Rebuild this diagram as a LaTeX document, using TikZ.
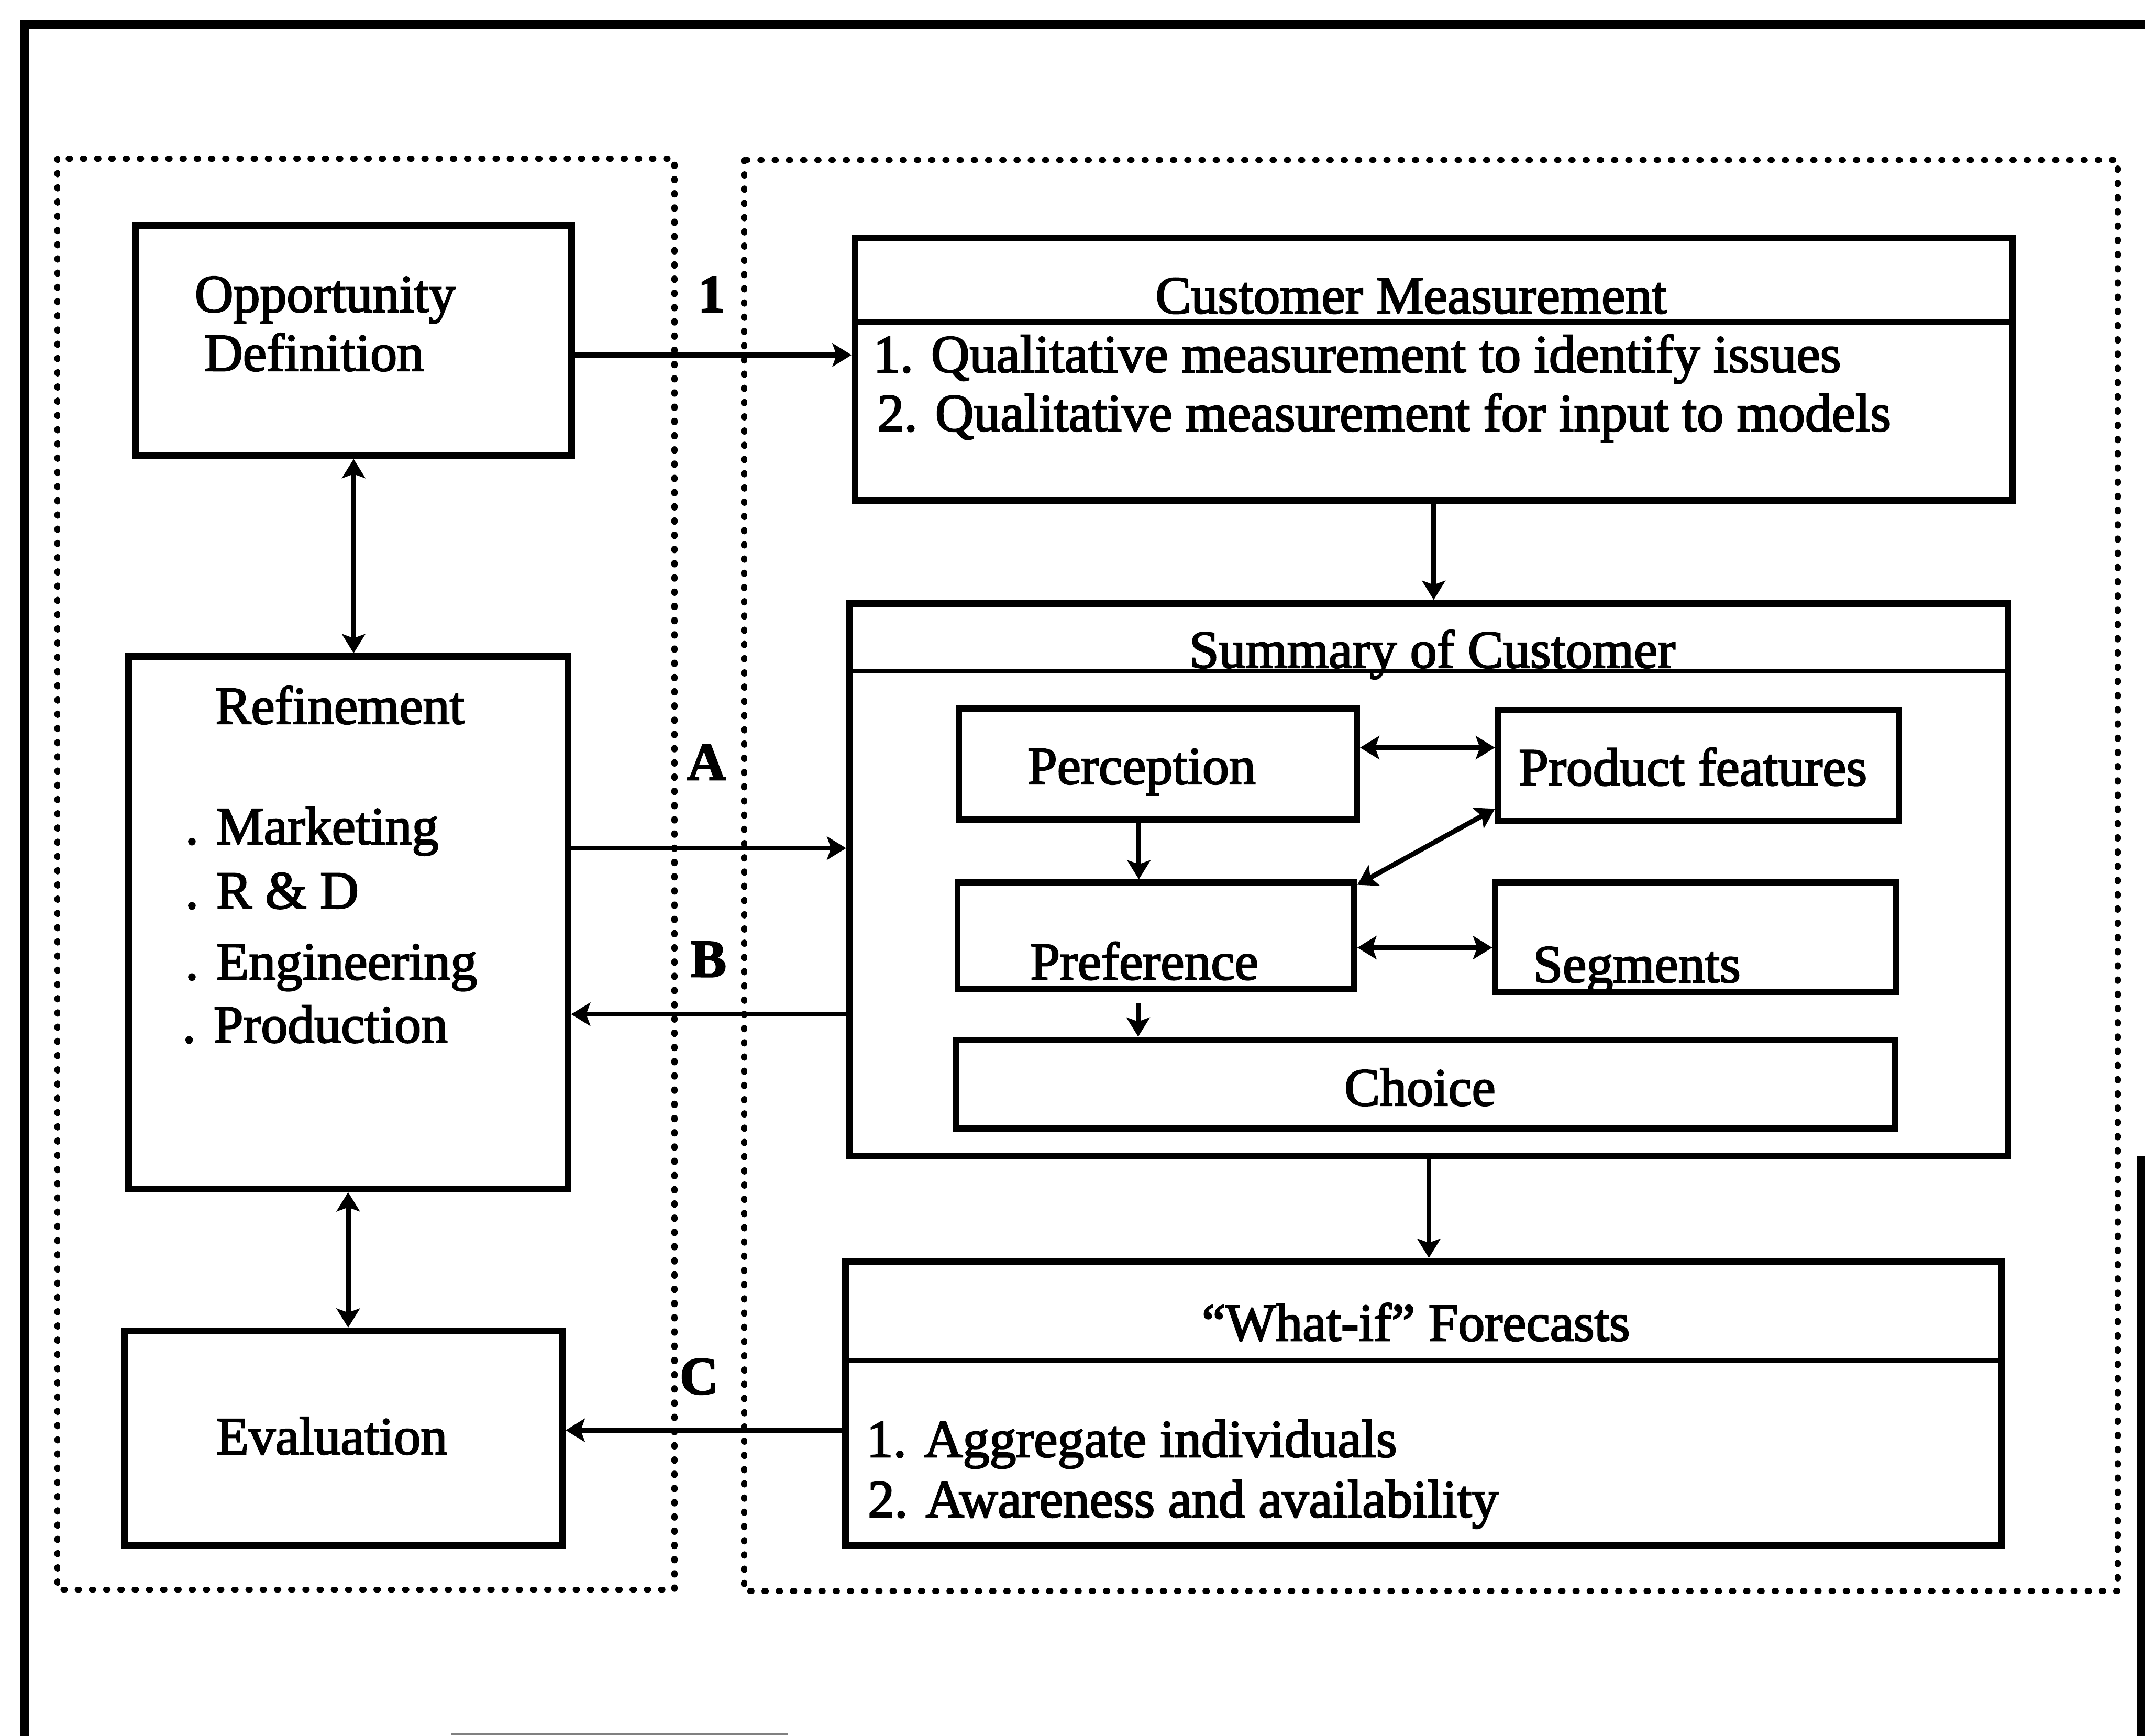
\documentclass[tikz,border=0pt]{standalone}
\usepackage{fontspec}
\setmainfont{Liberation Serif}[FakeBold=2.5]
\usetikzlibrary{arrows.meta,calc}

\tikzset{
  frame/.style={line width=3pt},
  dotbox/.style={line width=2.2pt, line cap=round, dash pattern=on 0.5pt off 4.7pt},
  box/.style={draw, rectangle, line width=2.5pt, inner sep=0pt},
  subbox/.style={draw, rectangle, line width=2.2pt, inner sep=0pt},
  divider/.style={line width=1.8pt},
  txt/.style={inner sep=0pt, font=\fontsize{19.5}{23}\selectfont},
  tag/.style={inner sep=0pt, font=\fontsize{19.5}{23}\selectfont\bfseries},
  tip/.tip={Stealth[length=7pt,width=8.5pt,inset=1.5pt]},
  arr/.style={line width=1.8pt, -tip},
  darr/.style={line width=1.8pt, tip-tip},
}

\begin{document}
\begin{tikzpicture}[x=0.5pt,y=-0.5pt]
\useasboundingbox (0,0) rectangle (1568,1269);
\clip (0,0) rectangle (1568,1269);

% outer frame (runs off the lower and right edges)
\draw[frame] (18,1300) -- (18,18) -- (1600,18);
\draw[frame] (1565,845) -- (1565,1300);
\draw[gray, line width=0.8pt] (330,1268) -- (576,1268);

% dotted groupings
\draw[dotbox] (42,116) rectangle (493,1162);
\draw[dotbox] (544,117) rectangle (1548,1163);

% left column
\node[box, minimum width=159.5pt, minimum height=84pt] (opp) at (258.5,249) {};
\node[box, minimum width=160.5pt, minimum height=194.5pt] (ref) at (254.5,674.5) {};
\node[box, minimum width=160pt, minimum height=78.5pt] (eval) at (251,1051.5) {};

% right column
\node[box, minimum width=423pt, minimum height=96pt] (cm) at (1048,270) {};
\node[box, minimum width=423.5pt, minimum height=202pt] (sum) at (1044.5,643) {};
\node[box, minimum width=422.5pt, minimum height=104pt] (fc) at (1040.5,1026) {};

% header dividers
\draw[divider] ($(cm.north west)+(0,64)$) -- ($(cm.north east)+(0,64)$);
\draw[divider] ($(sum.north west)+(0,52)$) -- ($(sum.north east)+(0,52)$);
\draw[divider] ($(fc.north west)+(0,75)$) -- ($(fc.north east)+(0,75)$);

% customer summary contents
\node[subbox, minimum width=145.5pt, minimum height=40.5pt] (perc) at (846.5,558.5) {};
\node[subbox, minimum width=146.5pt, minimum height=40.5pt] (pf) at (1241.5,559.5) {};
\node[subbox, minimum width=145pt, minimum height=39pt] (pref) at (845,684) {};
\node[subbox, minimum width=146.5pt, minimum height=40pt] (seg) at (1239.5,685) {};
\node[subbox, minimum width=343pt, minimum height=32.5pt] (choice) at (1042,792.5) {};

% texts
\node[txt, anchor=base west] (oppA) at (142,228) {Opportunity};
\node[txt, anchor=base west] (oppB) at (149,271) {Definition};
\node[txt, anchor=base] (refT) at (248.5,529) {Refinement};
\node[txt, anchor=base west] (r1) at (135,617) {. Marketing};
\node[txt, anchor=base west] (r2) at (135,664) {. R \& D};
\node[txt, anchor=base west] (r3) at (135,716) {. Engineering};
\node[txt, anchor=base west] (r4) at (133,762) {. Production};
\node[txt, anchor=base] (evalT) at (242.5,1063) {Evaluation};

\node[txt, anchor=base] (cmT) at (1031.5,229) {Customer Measurement};
\node[txt, anchor=base west] (cm1) at (638,272) {1. Qualitative measurement to identify issues};
\node[txt, anchor=base west] (cm2) at (641,315) {2. Qualitative measurement for input to models};
\node[txt, anchor=base] (sumT) at (1047,488) {Summary of Customer};
\node[txt, anchor=base] (percT) at (834.5,573) {Perception};
\node[txt, anchor=base] (pfT) at (1237.5,574) {Product features};
\node[txt, anchor=base] (prefT) at (836.5,716) {Preference};
\node[txt, anchor=base] (segT) at (1196.5,718) {Segments};
\node[txt, anchor=base] (choiceT) at (1038,808) {Choice};
\node[txt, anchor=base] (fcT) at (1035,980) {“What-if” Forecasts};
\node[txt, anchor=base west] (fc1) at (633,1065) {1. Aggregate individuals};
\node[txt, anchor=base west] (fc2) at (634,1109) {2. Awareness and availability};

% link tags
\node[tag, anchor=base] (t1) at (520,228) {1};
\node[tag, anchor=base] (tA) at (516.5,570) {A};
\node[tag, anchor=base] (tB) at (518,714) {B};
\node[tag, anchor=base] (tC) at (511,1019) {C};

% connectors between the columns
\coordinate (p1) at ($(opp.east)+(0,10.5)$);
\draw[arr] (p1) -- (p1 -| cm.west);
\coordinate (pA) at ($(ref.east)+(0,-54.5)$);
\draw[arr] (pA) -- (pA -| sum.west);
\coordinate (pB) at ($(sum.west)+(0,98.4)$);
\draw[arr] (pB) -- (pB -| ref.east);
\coordinate (pC) at ($(fc.west)+(0,19.5)$);
\draw[arr] (pC) -- (pC -| eval.east);

% connectors within the columns
\draw[darr] (opp.south) -- (opp.south |- ref.north);
\draw[darr] (ref.south) -- (ref.south |- eval.north);
\draw[arr] (cm.south) -- (cm.south |- sum.north);
\draw[arr] (sum.south) -- (sum.south |- fc.north);

% connectors inside the customer summary
\coordinate (q1) at ($(perc.east)+(0,-12)$);
\draw[darr] (q1) -- (q1 -| pf.west);
\coordinate (q2) at ($(perc.south)+(-14,0)$);
\draw[arr] (q2) -- (q2 |- pref.north);
\draw[darr] ($(pf.south west)+(0,-11)$) -- ($(pref.north east)+(0,4)$);
\coordinate (q3) at ($(pref.east)+(0,8.7)$);
\draw[darr] (q3) -- (q3 -| seg.west);
\coordinate (q4) at ($(pref.south)+(-13,8)$);
\draw[arr] (q4) -- (q4 |- choice.north);
\end{tikzpicture}
\end{document}
